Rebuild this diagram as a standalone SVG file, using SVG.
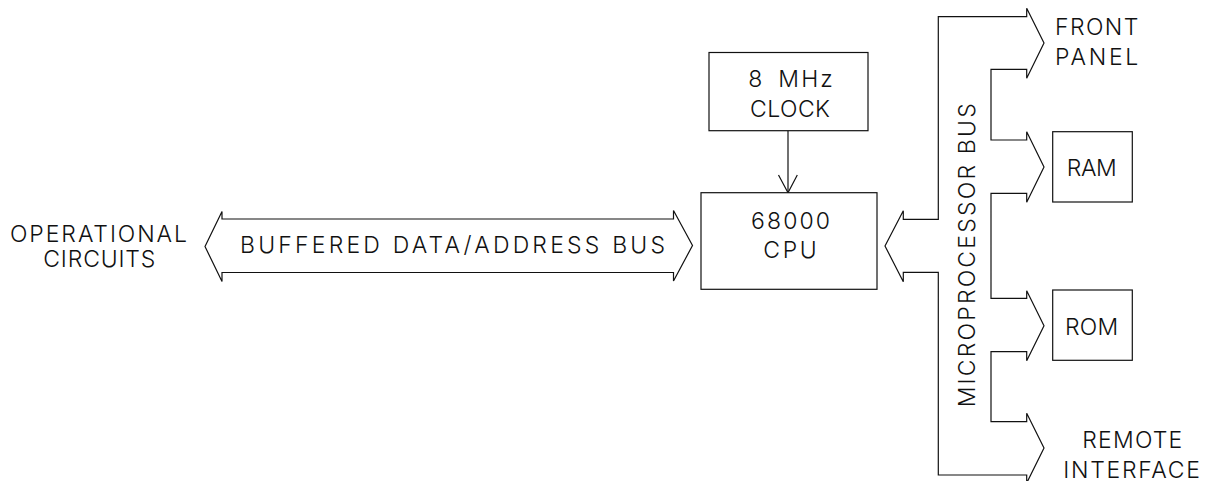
<svg xmlns="http://www.w3.org/2000/svg" width="1209" height="481" viewBox="0 0 1209 481">
  <style>
    .ln { fill: none; stroke: #111; stroke-width: 1.2; stroke-linejoin: miter; }
    .box { fill: #fff; stroke: #111; stroke-width: 1.2; }
    .lbl { font-family: "Inter", "Liberation Sans", sans-serif; font-weight: 300; font-size: 23px; fill: #111; }
  </style>
  <rect width="1209" height="481" fill="#fff"/>

  <!-- connectors: buses and clock line -->
  <g id="connectors">
    <!-- buffered data/address bus, double-headed -->
    <path id="buffered-bus" class="ln" d="M205,246.5 L222,211.5 L222,219 L673.5,219 L673.5,210.5 L692.5,245.5 L673.5,281 L673.5,272.5 L222,272.5 L222,281.5 Z"/>
    <!-- microprocessor bus with its four branches -->
    <path id="micro-bus" class="ln" d="M885,246 L903.3,210.7 L903.3,219.3 L938.3,219.3 L938.3,16.7 L1026.7,16.7 L1026.7,8.3 L1044,43 L1026.7,78.3 L1026.7,69.3 L991,69.3 L991,140 L1026.7,140 L1026.7,131.7 L1044,167 L1026.7,202.3 L1026.7,193.3 L991,193.3 L991,298.3 L1026.7,298.3 L1026.7,290.7 L1044,325.7 L1026.7,360.7 L1026.7,351.7 L991,351.7 L991,421.7 L1026.7,421.7 L1026.7,413.3 L1044,448 L1026.7,483 L1026.7,475 L938.3,475 L938.3,272.3 L903.3,272.3 L903.3,281.7 Z"/>
    <!-- clock to cpu -->
    <line class="ln" x1="788" y1="130.7" x2="788" y2="192.7"/>
    <polyline class="ln" points="778.5,175 788,192.7 797.3,175"/>
  </g>

  <!-- bus labels -->
  <text class="lbl" x="240" y="253.3" textLength="425" lengthAdjust="spacing">BUFFERED DATA/ADDRESS BUS</text>
  <text class="lbl" transform="translate(975,407.3) rotate(-90)" x="0" y="0" textLength="304" lengthAdjust="spacing">MICROPROCESSOR BUS</text>

  <g id="operational-circuits">
    <text class="lbl" x="10" y="241.7" textLength="177" lengthAdjust="spacing">OPERATIONAL</text>
    <text class="lbl" x="43.3" y="266.7" textLength="112" lengthAdjust="spacing">CIRCUITS</text>
  </g>

  <g id="clock">
    <rect class="box" x="709" y="52.5" width="159" height="78.2"/>
    <text class="lbl" y="87.3"><tspan x="748.3">8</tspan> <tspan x="778.3" textLength="54.5" lengthAdjust="spacing">MHz</tspan></text>
    <text class="lbl" x="750" y="117.3" textLength="80" lengthAdjust="spacing">CLOCK</text>
  </g>

  <g id="cpu">
    <rect class="box" x="701" y="192.7" width="176" height="96.6"/>
    <text class="lbl" x="751" y="229" textLength="79" lengthAdjust="spacing">68000</text>
    <text class="lbl" x="763.3" y="258.3" textLength="53.5" lengthAdjust="spacing">CPU</text>
  </g>

  <g id="front-panel">
    <text class="lbl" x="1055" y="35" textLength="83.3" lengthAdjust="spacing">FRONT</text>
    <text class="lbl" x="1055" y="65" textLength="83.3" lengthAdjust="spacing">PANEL</text>
  </g>

  <g id="ram">
    <rect class="box" x="1052.7" y="131.7" width="79.6" height="70.3"/>
    <text class="lbl" x="1066.7" y="175.7" textLength="50" lengthAdjust="spacing">RAM</text>
  </g>

  <g id="rom">
    <rect class="box" x="1052.7" y="290" width="79.6" height="70.3"/>
    <text class="lbl" x="1065" y="335" textLength="53.3" lengthAdjust="spacing">ROM</text>
  </g>

  <g id="remote-interface">
    <text class="lbl" x="1082.3" y="448.3" textLength="100" lengthAdjust="spacing">REMOTE</text>
    <text class="lbl" x="1063.3" y="478.3" textLength="136.7" lengthAdjust="spacing">INTERFACE</text>
  </g>
</svg>
